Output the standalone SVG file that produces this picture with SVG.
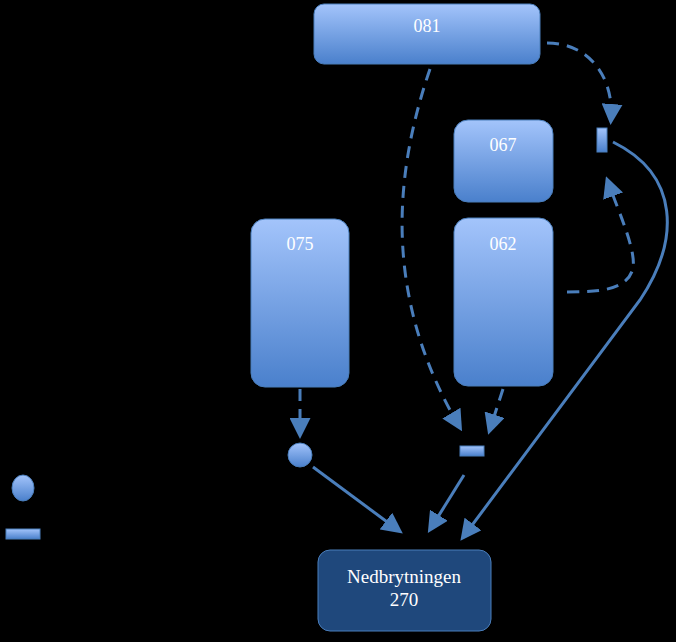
<svg xmlns="http://www.w3.org/2000/svg" width="676" height="642" viewBox="0 0 676 642">
<defs>
<linearGradient id="g" x1="0" y1="0" x2="0" y2="1">
<stop offset="0" stop-color="#a3c4fb"/>
<stop offset="1" stop-color="#4a80cc"/>
</linearGradient>
<marker id="a" markerWidth="7" markerHeight="7" refX="5" refY="3.5" orient="auto" markerUnits="strokeWidth" viewBox="0 0 7 7">
<path d="M0,0 L7,3.5 L0,7 z" fill="#4a7ebb"/>
</marker>
<style>
.n{fill:url(#g);stroke:#4a7ebb;stroke-width:1}
.t{font-family:"Liberation Serif",serif;font-size:18px;fill:#fff;text-anchor:middle}
.c{fill:none;stroke:#4a7ebb;stroke-width:3}
.d{stroke-dasharray:12,8}
</style>
</defs>
<rect width="676" height="642" fill="#000"/>
<g id="connectors">
<path class="c d" d="M547 43 C590 43 614 78 611 119" marker-end="url(#a)"/>
<path class="c d" d="M430 69 C392 180 385 300 459 426" marker-end="url(#a)"/>
<path class="c d" d="M503 389 L490 429" marker-end="url(#a)"/>
<path class="c d" d="M300 389 L300 433" marker-end="url(#a)"/>
<path class="c d" d="M567 292 C600 292 628 290 633 268 C636 250 620 215 608 182" marker-end="url(#a)"/>
<path class="c" d="M613 142 C680 175 680 240 640 300 L464 536" marker-end="url(#a)"/>
<path class="c" d="M313 467 L398 530" marker-end="url(#a)"/>
<path class="c" d="M464 475 L431 528" marker-end="url(#a)"/>
</g>
<g id="n081"><rect class="n" x="314" y="4" width="226" height="60" rx="10"/><text class="t" x="427" y="32">081</text></g>
<g id="n067"><rect class="n" x="454" y="120" width="99" height="82" rx="14"/><text class="t" x="503" y="151">067</text></g>
<g id="n062"><rect class="n" x="454" y="218" width="99" height="168" rx="14"/><text class="t" x="503" y="250">062</text></g>
<g id="n075"><rect class="n" x="251" y="219" width="98" height="168" rx="14"/><text class="t" x="300" y="250">075</text></g>
<g id="circle1"><ellipse class="n" cx="300" cy="455" rx="12" ry="12"/></g>
<g id="bar1"><rect class="n" x="460" y="446" width="24" height="10"/></g>
<g id="bar2"><rect class="n" x="597" y="128" width="10" height="24"/></g>
<g id="legendCircle"><ellipse class="n" cx="23" cy="488" rx="11" ry="13"/></g>
<g id="legendBar"><rect class="n" x="6" y="529" width="34" height="10"/></g>
<g id="n270"><rect x="318" y="550" width="173" height="81" rx="12" fill="#1f487c" stroke="#4a7ebb" stroke-width="1"/>
<text class="t" x="404" y="583" style="font-size:19px">Nedbrytningen</text><text class="t" x="404" y="606" style="font-size:19px">270</text></g>
</svg>
